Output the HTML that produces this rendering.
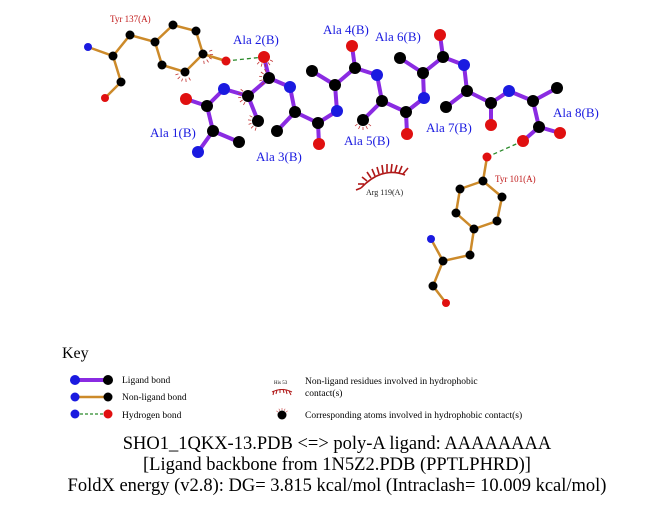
<!DOCTYPE html>
<html><head><meta charset="utf-8"><style>
html,body{margin:0;padding:0;background:#fff}
svg{display:block}
text{font-family:"Liberation Serif",serif}
</style></head><body>
<svg width="651" height="511" viewBox="0 0 651 511" xmlns="http://www.w3.org/2000/svg">
<defs>
<g id="hm" stroke="#c03030" stroke-width="0.8">
<line x1="0" y1="-7" x2="0" y2="-10"/><line x1="3" y1="-6" x2="4.5" y2="-9"/><line x1="-3" y1="-6" x2="-4.5" y2="-9"/><line x1="5.5" y1="-4" x2="8" y2="-6"/><line x1="-5.5" y1="-4" x2="-8" y2="-6"/>
</g>
</defs>
<g stroke="#cc8a2a" stroke-width="2.5" fill="none">
<polyline points="88,47 113,56 121,82 105,98"/>
<polyline points="113,56 130,35 155,42 173,25 196,31 203,54 185,72 162,65 155,42"/>
<line x1="203" y1="54" x2="226" y2="61"/>
<polyline points="487,157 483,181 502,197 497,221 474,229 456,213 460,189 483,181"/>
<polyline points="474,229 470,255 443,261 431,239"/>
<polyline points="443,261 433,286 446,303"/>
</g>
<g stroke="#2a8a2a" stroke-width="1.3" stroke-dasharray="4,3">
<line x1="226" y1="61" x2="264" y2="57"/>
<line x1="487" y1="157" x2="523" y2="141"/>
</g>
<g stroke="#8a2be2" stroke-width="4" fill="none" stroke-linejoin="round">
<polyline points="198,152 213,131 207,106 224,89 248,96 269,78 290,87 295,112 318,123 337,111 335,85 355,68 377,75 382,101 406,112 424,98 423,73 443,57 464,65 467,91 491,103 509,91 533,101 539,127 560,133"/>
<line x1="207" y1="106" x2="186" y2="99"/>
<line x1="213" y1="131" x2="239" y2="142"/>
<line x1="248" y1="96" x2="258" y2="121"/>
<line x1="269" y1="78" x2="264" y2="57"/>
<line x1="295" y1="112" x2="277" y2="131"/>
<line x1="318" y1="123" x2="319" y2="144"/>
<line x1="335" y1="85" x2="312" y2="71"/>
<line x1="355" y1="68" x2="352" y2="46"/>
<line x1="382" y1="101" x2="363" y2="120"/>
<line x1="406" y1="112" x2="407" y2="134"/>
<line x1="423" y1="73" x2="400" y2="58"/>
<line x1="443" y1="57" x2="440" y2="35"/>
<line x1="467" y1="91" x2="446" y2="107"/>
<line x1="491" y1="103" x2="491" y2="125"/>
<line x1="533" y1="101" x2="557" y2="88"/>
<line x1="539" y1="127" x2="523" y2="141"/>
</g>
<use href="#hm" transform="translate(185,72) rotate(200)"/>
<use href="#hm" transform="translate(203,54) rotate(120)"/>
<use href="#hm" transform="translate(248,96) rotate(-100)"/>
<use href="#hm" transform="translate(269,78) rotate(-80)"/>
<use href="#hm" transform="translate(258,121) rotate(-110)"/>
<use href="#hm" transform="translate(264,57) rotate(170)"/>
<use href="#hm" transform="translate(363,120) rotate(180)"/>
<g fill="#000">
<circle cx="113" cy="56" r="4.5"/><circle cx="121" cy="82" r="4.5"/><circle cx="130" cy="35" r="4.5"/><circle cx="155" cy="42" r="4.5"/><circle cx="173" cy="25" r="4.5"/><circle cx="196" cy="31" r="4.5"/><circle cx="203" cy="54" r="4.5"/><circle cx="185" cy="72" r="4.5"/><circle cx="162" cy="65" r="4.5"/>
<circle cx="483" cy="181" r="4.5"/><circle cx="502" cy="197" r="4.5"/><circle cx="497" cy="221" r="4.5"/><circle cx="474" cy="229" r="4.5"/><circle cx="456" cy="213" r="4.5"/><circle cx="460" cy="189" r="4.5"/><circle cx="470" cy="255" r="4.5"/><circle cx="443" cy="261" r="4.5"/><circle cx="433" cy="286" r="4.5"/>
</g>
<g fill="#1a1ae0"><circle cx="88" cy="47" r="4"/><circle cx="431" cy="239" r="4"/></g>
<g fill="#e01010"><circle cx="105" cy="98" r="4"/><circle cx="226" cy="61" r="4.5"/><circle cx="487" cy="157" r="4.5"/><circle cx="446" cy="303" r="4"/></g>
<g fill="#000">
<circle cx="213" cy="131" r="6"/><circle cx="207" cy="106" r="6"/><circle cx="239" cy="142" r="6"/><circle cx="248" cy="96" r="6"/><circle cx="258" cy="121" r="6"/><circle cx="269" cy="78" r="6"/><circle cx="295" cy="112" r="6"/><circle cx="277" cy="131" r="6"/><circle cx="318" cy="123" r="6"/><circle cx="335" cy="85" r="6"/><circle cx="312" cy="71" r="6"/><circle cx="355" cy="68" r="6"/><circle cx="382" cy="101" r="6"/><circle cx="363" cy="120" r="6"/><circle cx="406" cy="112" r="6"/><circle cx="423" cy="73" r="6"/><circle cx="400" cy="58" r="6"/><circle cx="443" cy="57" r="6"/><circle cx="467" cy="91" r="6"/><circle cx="446" cy="107" r="6"/><circle cx="491" cy="103" r="6"/><circle cx="533" cy="101" r="6"/><circle cx="557" cy="88" r="6"/><circle cx="539" cy="127" r="6"/>
</g>
<g fill="#1a1ae0">
<circle cx="198" cy="152" r="6"/><circle cx="224" cy="89" r="6"/><circle cx="290" cy="87" r="6"/><circle cx="337" cy="111" r="6"/><circle cx="377" cy="75" r="6"/><circle cx="424" cy="98" r="6"/><circle cx="464" cy="65" r="6"/><circle cx="509" cy="91" r="6"/>
</g>
<g fill="#e01010">
<circle cx="186" cy="99" r="6"/><circle cx="264" cy="57" r="6"/><circle cx="319" cy="144" r="6"/><circle cx="352" cy="46" r="6"/><circle cx="407" cy="134" r="6"/><circle cx="440" cy="35" r="6"/><circle cx="491" cy="125" r="6"/><circle cx="560" cy="133" r="6"/><circle cx="523" cy="141" r="6"/>
</g>
<!-- Arg119 arc -->
<g stroke="#b01818" stroke-width="1.6" fill="none">
<path d="M361,188 Q382,166 405,175"/>
<line x1="361" y1="188" x2="356" y2="190"/>
<line x1="364" y1="184" x2="358" y2="184"/>
<line x1="367" y1="181" x2="362" y2="177"/>
<line x1="371" y1="178" x2="367" y2="172"/>
<line x1="375" y1="176" x2="372" y2="169"/>
<line x1="379" y1="174" x2="377" y2="167"/>
<line x1="383" y1="173" x2="382" y2="165"/>
<line x1="387" y1="172" x2="387" y2="164"/>
<line x1="391" y1="172" x2="392" y2="164"/>
<line x1="395" y1="172" x2="397" y2="165"/>
<line x1="399" y1="173" x2="402" y2="166"/>
<line x1="403" y1="174" x2="408" y2="168"/>
</g>
<text x="366" y="195" font-size="8" fill="#222">Arg 119(A)</text>
<g font-size="9" fill="#c01818">
<text x="110" y="22">Tyr 137(A)</text>
<text x="495" y="182">Tyr 101(A)</text>
</g>
<g font-size="13" fill="#1a1ae0">
<text x="233" y="44">Ala 2(B)</text>
<text x="323" y="34">Ala 4(B)</text>
<text x="375" y="41">Ala 6(B)</text>
<text x="150" y="137">Ala 1(B)</text>
<text x="256" y="161">Ala 3(B)</text>
<text x="344" y="145">Ala 5(B)</text>
<text x="426" y="132">Ala 7(B)</text>
<text x="553" y="117">Ala 8(B)</text>
</g>
<text x="62" y="358" font-size="16" fill="#000">Key</text>
<line x1="75" y1="380" x2="108" y2="380" stroke="#8a2be2" stroke-width="4"/>
<circle cx="75" cy="380" r="5" fill="#1a1ae0"/><circle cx="108" cy="380" r="5" fill="#000"/>
<line x1="75" y1="397" x2="108" y2="397" stroke="#cc8a2a" stroke-width="2.5"/>
<circle cx="75" cy="397" r="4.5" fill="#1a1ae0"/><circle cx="108" cy="397" r="4.5" fill="#000"/>
<line x1="75" y1="414" x2="108" y2="414" stroke="#2a8a2a" stroke-width="1.2" stroke-dasharray="3,2"/>
<circle cx="75" cy="414" r="4.5" fill="#1a1ae0"/><circle cx="108" cy="414" r="4.5" fill="#e01010"/>
<g font-size="9.5" fill="#000">
<text x="122" y="383">Ligand bond</text>
<text x="122" y="400">Non-ligand bond</text>
<text x="122" y="418">Hydrogen bond</text>
<text x="305" y="384">Non-ligand residues involved in hydrophobic</text>
<text x="305" y="396">contact(s)</text>
<text x="305" y="418">Corresponding atoms involved in hydrophobic contact(s)</text>
</g>
<text x="274" y="384" font-size="5" fill="#000">His 53</text>
<g stroke="#b01818" stroke-width="1" fill="none">
<path d="M272,392 Q282,387 292,392"/>
<line x1="274" y1="391" x2="273" y2="395"/><line x1="277" y1="390" x2="276" y2="394"/><line x1="280" y1="389" x2="280" y2="393"/><line x1="283" y1="389" x2="284" y2="393"/><line x1="286" y1="390" x2="287" y2="394"/><line x1="289" y1="391" x2="291" y2="395"/>
</g>
<circle cx="282" cy="415" r="4.5" fill="#000"/>
<use href="#hm" transform="translate(282,415) scale(0.7)"/>
<g font-size="18.5" fill="#000" text-anchor="middle">
<text x="337" y="449">SHO1_1QKX-13.PDB &lt;=&gt; poly-A ligand: AAAAAAAA</text>
<text x="337" y="470">[Ligand backbone from 1N5Z2.PDB (PPTLPHRD)]</text>
<text x="337" y="491">FoldX energy (v2.8): DG= 3.815 kcal/mol (Intraclash= 10.009 kcal/mol)</text>
</g>
</svg>
</body></html>
